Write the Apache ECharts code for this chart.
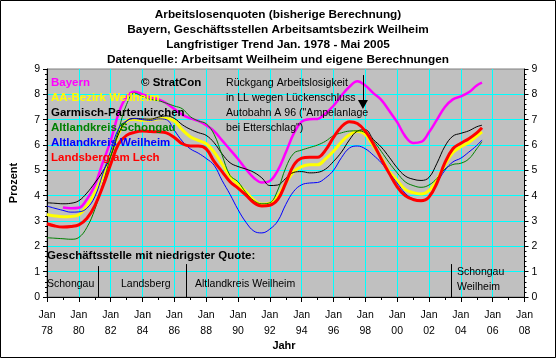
<!DOCTYPE html>
<html><head><meta charset="utf-8">
<script src="https://cdn.jsdelivr.net/npm/echarts@6/dist/echarts.min.js"></script>
<style>html,body{margin:0;padding:0;background:#fff}#c{width:556px;height:358px}</style>
</head><body><div id="c"></div>
<script>
const years = [1978,1978.5,1979,1979.5,1980,1980.5,1981,1981.5,1982,1982.5,1983,1983.5,1984,1984.5,1985,1985.5,1986,1986.5,1987,1987.5,1988,1988.5,1989,1989.5,1990,1990.5,1991,1991.5,1992,1992.5,1993,1993.5,1994,1994.5,1995,1995.5,1996,1996.5,1997,1997.5,1998,1998.5,1999,1999.5,2000,2000.5,2001,2001.5,2002,2002.5,2003,2003.5,2004,2004.5,2005,2005.33];
const bayern = [null,null,3.53,3.5,3.52,3.85,4.4,5.3,6.16,7.25,7.9,8.1,8.0,7.88,7.8,7.65,7.42,7.2,7.05,6.95,6.78,6.55,6.18,5.82,5.45,5.05,4.7,4.52,4.58,5.0,5.7,6.45,6.92,7.02,7.03,7.25,7.55,7.95,8.3,8.52,8.35,8.05,7.78,7.35,6.9,6.35,6.08,6.12,6.5,7.0,7.5,7.8,7.92,8.08,8.35,8.46];
const aaBezirk = [3.26,3.2,3.17,3.18,3.25,3.6,4.1,4.75,5.63,6.45,6.95,7.02,6.98,6.98,7.04,7.05,6.95,6.6,6.33,6.18,6.05,5.72,5.25,4.75,4.45,4.15,3.82,3.66,3.7,3.98,4.5,4.95,5.15,5.22,5.22,5.45,5.75,6.12,6.4,6.54,6.42,5.97,5.5,4.95,4.6,4.25,4.12,4.07,4.2,4.62,5.22,5.7,5.93,6.1,6.35,6.52];
const garmisch = [3.72,3.7,3.68,3.7,3.8,4.1,4.5,4.95,5.55,6.45,6.95,7.05,7.03,7.02,7.1,7.15,7.05,6.8,6.62,6.49,6.38,6.09,5.65,5.3,5.15,5.05,4.92,4.7,4.4,4.42,4.68,4.92,4.95,4.9,4.92,5.05,5.35,5.72,6.2,6.55,6.6,6.22,5.92,5.52,5.1,4.78,4.65,4.6,4.72,5.28,5.95,6.35,6.46,6.56,6.72,6.78];
const schongau = [2.34,2.32,2.3,2.28,2.35,2.74,3.45,4.45,5.55,6.6,7.6,8.05,7.92,7.8,7.75,7.65,7.54,7.43,7.12,6.95,6.84,6.42,5.6,4.8,4.55,4.12,3.8,3.68,3.72,4.22,5.1,5.67,5.8,5.9,6.0,6.15,6.37,6.48,6.55,6.56,6.48,6.17,5.75,5.3,4.9,4.55,4.4,4.33,4.42,4.68,5.05,5.23,5.28,5.45,5.85,6.13];
const altWeilheim = [3.59,3.5,3.42,3.35,3.36,3.5,3.95,4.85,5.76,6.65,6.95,7.04,7.0,6.97,7.03,7.0,6.58,6.15,5.85,5.68,5.47,5.2,4.6,4.05,3.45,2.95,2.6,2.53,2.68,3.0,3.65,4.17,4.43,4.5,4.52,4.7,5.0,5.5,5.88,5.96,5.85,5.6,5.3,4.9,4.5,4.1,3.87,3.82,3.95,4.5,5.0,5.33,5.48,5.72,5.98,6.2];
const landsberg = [2.89,2.8,2.76,2.78,2.85,3.1,3.6,4.35,5.24,6.05,6.38,6.5,6.55,6.53,6.52,6.48,6.3,6.05,5.96,5.96,5.85,5.35,4.95,4.55,4.3,4.02,3.72,3.59,3.62,3.85,4.5,5.2,5.48,5.52,5.52,5.8,6.3,6.72,6.92,6.85,6.55,6.05,5.45,4.88,4.35,4.0,3.85,3.8,3.95,4.5,5.3,5.85,6.07,6.25,6.48,6.68];
const seriesNames = ['Bayern','AA-Bezirk Weilheim','Garmisch-Partenkirchen','Altlandkreis Schongau','Altlandkreis Weilheim','Landsberg am Lech'];
const xTickYears = [1978,1980,1982,1984,1986,1988,1990,1992,1994,1996,1998,2000,2002,2004,2006,2008];
const xTickLabels = ['78','80','82','84','86','88','90','92','94','96','98','00','02','04','06','08'];
const yTickLabels = ['0','1','2','3','4','5','6','7','8','9'];
const titleLines = ['Arbeitslosenquoten (bisherige Berechnung)','Bayern, Geschäftsstellen Arbeitsamtsbezirk Weilheim','Langfristiger Trend Jan. 1978 - Mai 2005','Datenquelle: Arbeitsamt Weilheim und eigene Berechnungen'];
const noteLines = ['Rückgang Arbeitslosigkeit','in LL wegen Lückenschluss','Autobahn A 96 ("Ampelanlage','bei Etterschlag")'];
const sepYears = [1981.25, 1986.75, 2003.4];
const sepTops = [1.22, 1.3, 1.3];
const arrowYear = 1997.85, arrowFrom = 8.76, arrowTo = 7.6;

const colors = ['#FF00FF','#FFFF00','#000000','#008000','#0000FF','#FF0000'];
const widths = [2.5,3,1,1,1,3];
const values = [bayern, aaBezirk, garmisch, schongau, altWeilheim, landsberg];
const FONT = 'Liberation Sans, Arial, sans-serif';

const series = values.map((vals,k)=>({
  name: seriesNames[k], type:'line', showSymbol:false, smooth:0.4, connectNulls:false,
  data: years.map((y,i)=>[y, vals[i]]),
  lineStyle:{color:colors[k], width:widths[k]}, itemStyle:{color:colors[k]},
  z: 2+k, silent:true
}));
const ml = [];
sepYears.forEach((y,i)=>ml.push([{coord:[y,0]},{coord:[y,sepTops[i]]}]));
ml.push([{coord:[arrowYear,arrowFrom]},{coord:[arrowYear,arrowTo],symbol:'triangle',symbolSize:[10,9]}]);
series.push({type:'line', data:[], silent:true, z:10,
  markLine:{silent:true, symbol:['none','none'], label:{show:false}, animation:false,
    lineStyle:{color:'#000', width:1, type:'solid'}, emphasis:{disabled:true}, data: ml}});

const legendY = [83,98,113,128,143,158];
const graphic = [
  {type:'rect', shape:{x:0.5,y:0.5,width:555,height:357}, style:{fill:'none',stroke:'#000',lineWidth:1}, z:100}
];
seriesNames.forEach((n,k)=>graphic.push({type:'text', x:51, y:legendY[k], z:50,
  style:{text:n, fill:colors[k], font:'bold 11.5px '+FONT, verticalAlign:'middle'}}));
graphic.push({type:'text', x:141, y:83, z:50, style:{text:'© StratCon', fill:'#000', font:'bold 11.5px '+FONT, verticalAlign:'middle'}});
noteLines.forEach((t,i)=>graphic.push({type:'text', x:226, y:83+i*15, z:50,
  style:{text:t, fill:'#000', font:'10.6px '+FONT, verticalAlign:'middle'}}));
graphic.push({type:'text', x:47, y:256, z:50, style:{text:'Geschäftsstelle mit niedrigster Quote:', fill:'#000', font:'bold 11.5px '+FONT, verticalAlign:'middle'}});
[['Schongau',47,284],['Landsberg',121,284],['Altlandkreis Weilheim',195,284],['Schongau',457,272],['Weilheim',457,287]].forEach(a=>
  graphic.push({type:'text', x:a[1], y:a[2], z:50, style:{text:a[0], fill:'#000', font:'10.5px '+FONT, verticalAlign:'middle'}}));
graphic.push({type:'text', x:284, y:346, z:50, style:{text:'Jahr', fill:'#000', font:'bold 11px '+FONT, align:'center', verticalAlign:'middle'}});

const yAxisCommon = {type:'value', min:0, max:9, interval:1,
  axisLine:{show:true, lineStyle:{color:'#000', width:1}},
  axisTick:{show:true, length:4, lineStyle:{color:'#000'}},
  minorTick:{show:true, splitNumber:5, length:2, lineStyle:{color:'#000'}},
  axisLabel:{color:'#000', fontSize:10.5, fontFamily:FONT, margin:7, formatter:v=>yTickLabels[Math.round(v)]}};

const chart = echarts.init(document.getElementById('c'), null, {renderer:'canvas'});
chart.setOption({
  animation:false,
  backgroundColor:'#fff',
  title:{text:titleLines.join('\n'), left:'center', top:2, textStyle:{fontSize:11.8, fontWeight:'bold', color:'#000', lineHeight:15, fontFamily:FONT}},
  grid:{left:46.5, right:31.5, top:69, bottom:61, show:true, backgroundColor:'#C0C0C0', borderColor:'#808080', borderWidth:1},
  xAxis:{type:'value', min:1978, max:2008, interval:2,
    axisLine:{show:true, onZero:false, lineStyle:{color:'#000'}},
    axisTick:{show:true, length:5, lineStyle:{color:'#000'}},
    minorTick:{show:true, splitNumber:2, length:3, lineStyle:{color:'#000'}},
    splitLine:{show:true, showMinLine:false, showMaxLine:false, lineStyle:{color:'#00FFFF', width:1}},
    axisLabel:{color:'#000', fontSize:10.5, fontFamily:FONT, lineHeight:16, margin:10,
      formatter:v=>{const i=xTickYears.indexOf(Math.round(v)); return 'Jan\n'+xTickLabels[i];}}},
  yAxis:[
    Object.assign({}, yAxisCommon, {position:'left', name:'Prozent', nameLocation:'middle', nameRotate:90, nameGap:28,
      nameTextStyle:{color:'#000', fontSize:11, fontWeight:'bold', fontFamily:FONT},
      splitLine:{show:true, showMinLine:false, showMaxLine:false, lineStyle:{color:'#00FFFF', width:1}}}),
    Object.assign({}, yAxisCommon, {position:'right', splitLine:{show:false}})
  ],
  graphic: graphic,
  series: series
});
</script></body></html>
